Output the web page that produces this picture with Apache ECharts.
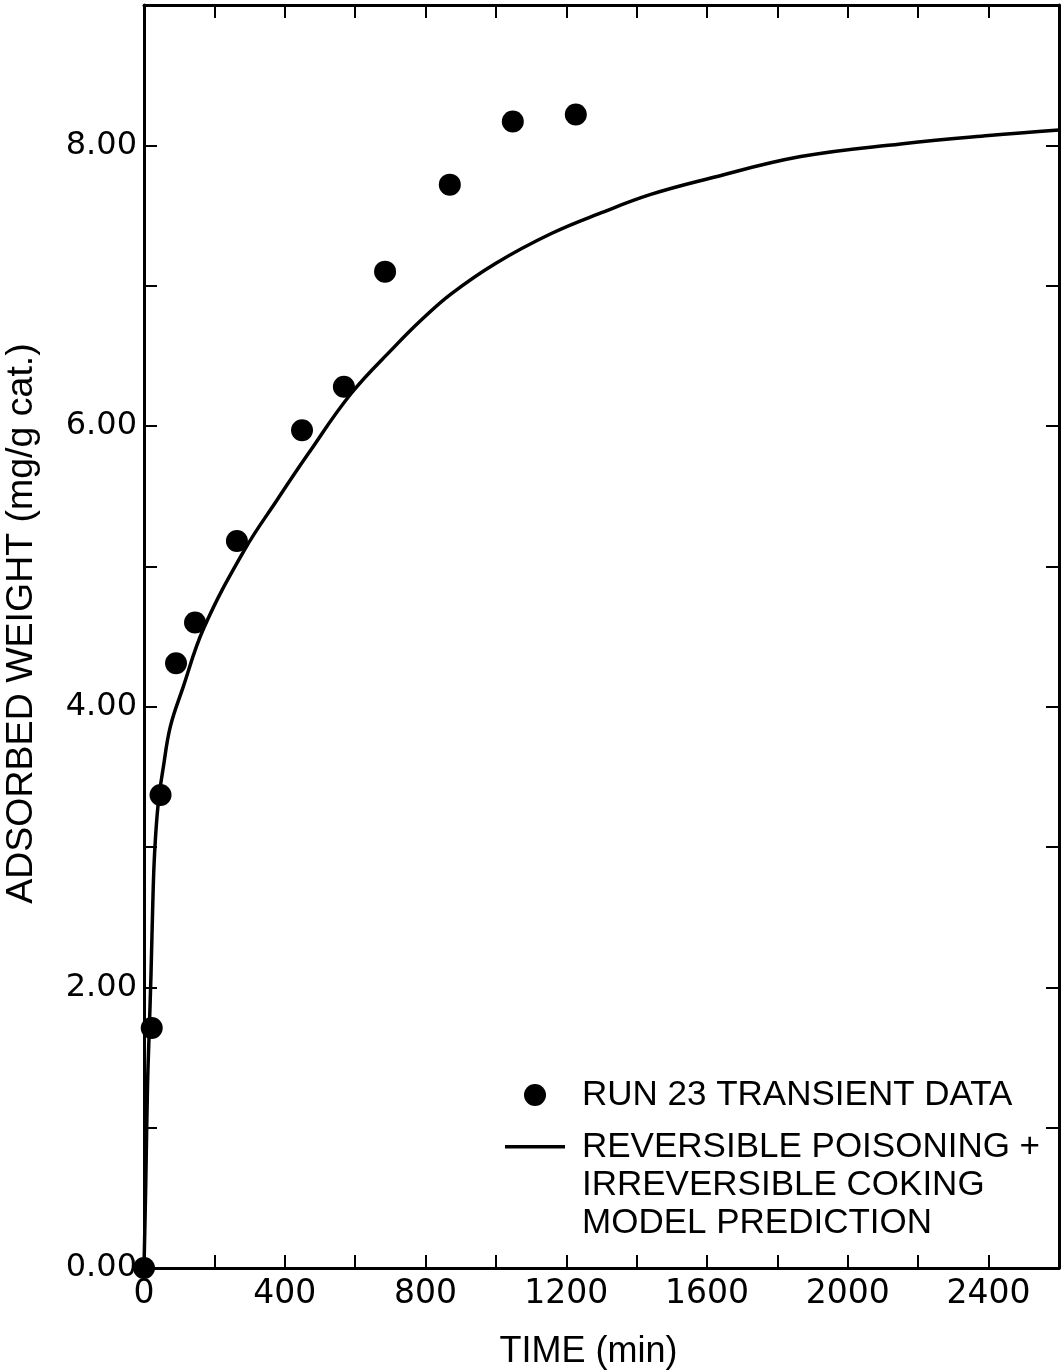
<!DOCTYPE html>
<html>
<head>
<meta charset="utf-8">
<script src="https://cdn.jsdelivr.net/npm/echarts@6/dist/echarts.min.js"></script>
<style>
  html, body { margin: 0; padding: 0; background: #fff; }
  #chart { width: 1061px; height: 1370px; }
</style>
</head>
<body>
<div id="chart"></div>
<script>
// run 23 transient data (time in min, adsorbed weight mg/g cat.)
const runTimes = [0, 22, 47, 91, 145, 264, 449, 568, 685, 869, 1048, 1227]
const runWeights = [0, 1.71, 3.37, 4.31, 4.60, 5.18, 5.97, 6.28, 7.10, 7.72, 8.17, 8.22]

// model prediction curve
const modelTimes = [0, 5, 10, 15, 20, 25, 30, 40, 55, 75, 110, 170, 284, 380, 466, 588, 710, 790, 872, 1000, 1156, 1300, 1440, 1600, 1866, 2150, 2400, 2600]
const modelWeights = [0, 0.6, 1.3, 1.7, 2.1, 2.6, 2.95, 3.3, 3.57, 3.86, 4.13, 4.56, 5.11, 5.48, 5.80, 6.23, 6.56, 6.76, 6.94, 7.16, 7.37, 7.52, 7.65, 7.76, 7.92, 8.01, 8.07, 8.11]

const seriesNames = ['RUN 23 TRANSIENT DATA', 'REVERSIBLE POISONING +\nIRREVERSIBLE COKING\nMODEL PREDICTION']

const chart = echarts.init(document.getElementById('chart'))

const axisLine = { show: true, onZero: false, lineStyle: { color: '#000', width: 3 } }
const tick = { show: true, inside: true, length: 13, lineStyle: { color: '#000', width: 2 } }
const legendText = {
  fontFamily: 'Liberation Sans',
  fontSize: 35,
  color: '#000',
  lineHeight: 38,
  padding: [0, 0, 0, 12],
}

const option = {
  backgroundColor: '#fff',
  animation: false,
  grid: { left: 144, right: 2, top: 5, bottom: 102, outerBoundsMode: 'none' },
  legend: [
    {
      left: 519,
      top: 1071,
      itemWidth: 60,
      itemHeight: 22,
      data: [{ name: seriesNames[0], icon: 'circle' }],
      textStyle: legendText,
    },
    {
      // line marker sits on the first of the three text lines
      left: 500,
      top: 1123,
      itemWidth: 60,
      itemHeight: 114,
      data: [{
        name: seriesNames[1],
        icon: 'path://M0,17 L60,17 L60,20.5 L0,20.5 Z M0,0 L0.05,0 L0.05,0.05 Z M0,114 L0.05,114 L0.05,113.95 Z',
      }],
      textStyle: legendText,
    },
  ],
  xAxis: [
    {
      type: 'value',
      min: 0,
      max: 2600,
      interval: 200,
      position: 'bottom',
      axisLine: axisLine,
      axisTick: tick,
      splitLine: { show: false },
      axisLabel: {
        color: '#000',
        fontFamily: 'DejaVu Sans',
        fontSize: 33,
        margin: 10,
        showMaxLabel: false,
        formatter: (v) => (v % 400 === 0 ? String(v) : ''),
      },
      name: 'TIME (min)',
      nameLocation: 'middle',
      nameGap: 66,
      nameTextStyle: {
        color: '#000',
        fontFamily: 'Liberation Sans',
        fontSize: 36,
        padding: [0, 26, 0, 0],
      },
    },
    {
      type: 'value',
      min: 0,
      max: 2600,
      interval: 200,
      position: 'top',
      axisLine: axisLine,
      axisTick: tick,
      axisLabel: { show: false },
      splitLine: { show: false },
    },
  ],
  yAxis: [
    {
      type: 'value',
      min: 0,
      max: 9,
      interval: 1,
      position: 'left',
      axisLine: axisLine,
      axisTick: tick,
      splitLine: { show: false },
      axisLabel: {
        color: '#000',
        fontFamily: 'DejaVu Sans',
        fontSize: 32,
        margin: 7,
        showMaxLabel: false,
        formatter: (v) => (v % 2 === 0 ? v.toFixed(2) : ''),
      },
      name: 'ADSORBED WEIGHT (mg/g cat.)',
      nameLocation: 'middle',
      nameGap: 103,
      nameRotate: 90,
      nameTextStyle: {
        color: '#000',
        fontFamily: 'Liberation Sans',
        fontSize: 37.5,
        padding: [0, 0, 0, 26],
      },
    },
    {
      type: 'value',
      min: 0,
      max: 9,
      interval: 1,
      position: 'right',
      axisLine: axisLine,
      axisTick: tick,
      axisLabel: { show: false },
      splitLine: { show: false },
    },
  ],
  series: [
    {
      name: seriesNames[0],
      type: 'scatter',
      symbol: 'circle',
      symbolSize: 22,
      clip: false,
      z: 5,
      itemStyle: { color: '#000', opacity: 1 },
      data: runTimes.map((t, i) => [t, runWeights[i]]),
    },
    {
      name: seriesNames[1],
      type: 'line',
      smooth: 0.4,
      symbol: 'none',
      z: 3,
      lineStyle: { color: '#000', width: 3.5 },
      itemStyle: { color: '#000' },
      data: modelTimes.map((t, i) => [t, modelWeights[i]]),
    },
  ],
}

chart.setOption(option)
</script>
</body>
</html>
